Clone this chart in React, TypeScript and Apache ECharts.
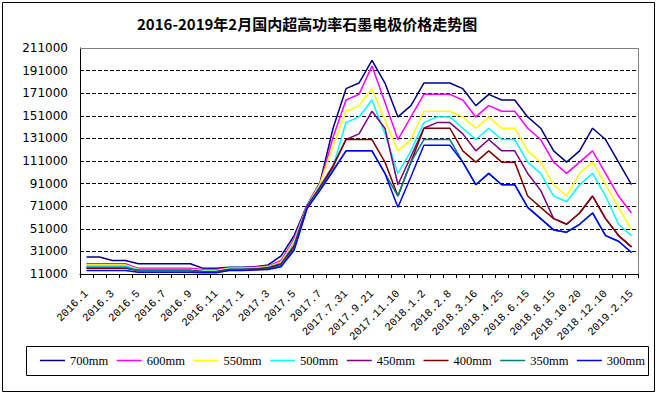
import React, { useEffect, useRef } from "react";
import * as echarts from "echarts";

const TITLE = "2016-2019年2月国内超高功率石墨电极价格走势图";

const categories = [
  "2016.1", "2016.2", "2016.3", "2016.4", "2016.5", "2016.6", "2016.7", "2016.8", "2016.9", "2016.10",
  "2016.11", "2016.12", "2017.1", "2017.2", "2017.3", "2017.4", "2017.5", "2017.6", "2017.7", "2017.7.15",
  "2017.7.31", "2017.8.31", "2017.9.21", "2017.10.15", "2017.11.10", "2017.12.1", "2018.1.2", "2018.1.20",
  "2018.2.8", "2018.3.1", "2018.3.16", "2018.4.5", "2018.4.25", "2018.5.20", "2018.6.15", "2018.7.15",
  "2018.8.15", "2018.9.15", "2018.10.20", "2018.11.15", "2018.12.10", "2019.1.10", "2019.2.15",
];

const seriesNames = ["700mm", "600mm", "550mm", "500mm", "450mm", "400mm", "350mm", "300mm"];
const seriesColors = ["#000080", "#FF00FF", "#FFFF00", "#00FFFF", "#800080", "#800000", "#008080", "#0000FF"];

const mm700 = [26000, 26000, 23000, 23000, 20000, 20000, 20000, 20000, 20000, 16000, 16000, 17000, 17000, 17500, 19000, 27000, 45000, 72000, 92000, 140000, 175000, 180000, 200000, 180000, 150000, 160000, 180000, 180000, 180000, 175000, 160000, 170000, 165000, 165000, 150000, 140000, 120000, 110000, 120000, 140000, 130000, 110000, 90000];
const mm600 = [20000, 20000, 20000, 20000, 16000, 16000, 16000, 16000, 16000, 15000, 15000, 16500, 16500, 17000, 18000, 23000, 42000, 72000, 91000, 132000, 165000, 170000, 195000, 163000, 130000, 150000, 170000, 170000, 170000, 165000, 150000, 160000, 155000, 155000, 140000, 130000, 110000, 100000, 110000, 120000, 100000, 80000, 65000];
const mm550 = [19000, 19000, 19000, 19000, 15000, 15000, 15000, 15000, 15000, 14000, 14000, 16000, 16000, 16500, 17500, 21500, 40000, 71000, 91000, 124000, 155000, 160000, 175000, 147000, 120000, 130000, 155000, 155000, 155000, 150000, 140000, 150000, 140000, 140000, 120000, 110000, 90000, 80000, 100000, 110000, 90000, 70000, 50000];
const mm500 = [18000, 18000, 18000, 18000, 14500, 14500, 14500, 14500, 14500, 13500, 13500, 15500, 15500, 16000, 17000, 20500, 38000, 71000, 89000, 106000, 145000, 150000, 165000, 135000, 100000, 120000, 145000, 150000, 150000, 140000, 130000, 140000, 130000, 130000, 110000, 100000, 80000, 75000, 90000, 100000, 80000, 55000, 45000];
const mm450 = [16500, 16500, 16500, 16500, 14000, 14000, 14000, 14000, 14000, 13000, 13000, 15000, 15000, 15500, 16500, 20000, 36000, 71000, 88000, 107000, 130000, 135000, 155000, 140000, 90000, 115000, 140000, 145000, 145000, 135000, 120000, 130000, 120000, 120000, 100000, 85000, 60000, 55000, 65000, 80000, 60000, 45000, 35000];
const mm400 = [16000, 16000, 16000, 16000, 14000, 14000, 14000, 14000, 14000, 13000, 13000, 15000, 15000, 15500, 16000, 19500, 35000, 70000, 87000, 106000, 130000, 130000, 130000, 110000, 80000, 110000, 140000, 140000, 140000, 120000, 110000, 120000, 110000, 110000, 80000, 70000, 60000, 55000, 65000, 80000, 60000, 45000, 35000];
const mm350 = [17000, 17000, 17000, 17000, 14000, 14000, 14000, 14000, 14000, 12500, 12500, 14500, 14500, 15000, 15500, 18500, 33000, 70000, 86000, 103000, 120000, 120000, 120000, 100000, 80000, 110000, 130000, 130000, 130000, 110000, 90000, 100000, 90000, 90000, 70000, 60000, 50000, 48000, 55000, 65000, 45000, 40000, 30000];
const mm300 = [14000, 14000, 14000, 14000, 12500, 12500, 12500, 12500, 12500, 12000, 12000, 14000, 14000, 14500, 15000, 17500, 32000, 69000, 85000, 102000, 120000, 120000, 120000, 100000, 70000, 97000, 125000, 125000, 125000, 110000, 90000, 100000, 90000, 90000, 70000, 60000, 50000, 48000, 55000, 65000, 45000, 40000, 30000];

const seriesValues = [mm700, mm600, mm550, mm500, mm450, mm400, mm350, mm300];

const yTicks = { min: 11000, max: 211000, interval: 20000 };

export default function App() {
  const ref = useRef<HTMLDivElement>(null);

  useEffect(() => {
    document.body.style.margin = "0";
    if (!ref.current) return;
    const chart = echarts.init(ref.current, null, { renderer: "svg" });
    const option = {
      animation: false,
      backgroundColor: "#ffffff",
      title: {
        text: TITLE,
        left: 132,
        top: 11,
        textStyle: { fontFamily: "Noto Sans CJK SC", fontSize: 15, fontWeight: "bold", color: "#000" },
      },
      grid: { left: 80, top: 48, right: 20, bottom: 122, show: false },
      legend: {
        left: 40,
        top: 354,
        width: 640,
        icon: "rect",
        itemWidth: 25,
        itemHeight: 1.5,
        itemGap: 8.5,
        padding: 0,
        data: seriesNames,
        textStyle: { fontFamily: "Liberation Serif", fontSize: 12.5, color: "#000" },
      },
      xAxis: {
        type: "category",
        data: categories,
        boundaryGap: true,
        axisLine: { lineStyle: { color: "#000", width: 1 } },
        axisTick: { show: true, interval: 0, length: 4, lineStyle: { color: "#000" } },
        axisLabel: {
          interval: 1,
          rotate: 45,
          margin: 18,
          fontFamily: "Liberation Mono",
          fontSize: 11,
          color: "#000",
        },
        splitLine: { show: false },
      },
      yAxis: {
        type: "value",
        min: yTicks.min,
        max: yTicks.max,
        interval: yTicks.interval,
        axisLine: { show: true, lineStyle: { color: "#000", width: 1 } },
        axisTick: { show: false },
        axisLabel: {
          margin: 12,
          fontFamily: "DejaVu Sans",
          fontSize: 12,
          color: "#000",
          formatter: (v: number) => String(v),
        },
        splitLine: { show: true, lineStyle: { color: "#000", type: [4, 2], width: 1 } },
      },
      series: seriesNames.map((name, k) => ({
        name,
        type: "line",
        data: seriesValues[k],
        symbol: "none",
        lineStyle: { color: seriesColors[k], width: 1.5 },
        itemStyle: { color: seriesColors[k] },
      })),
      graphic: [
        {
          type: "rect",
          z: 0,
          shape: { x: 26.5, y: 346.5, width: 622, height: 29 },
          style: { fill: "#fff", stroke: "#000", lineWidth: 1 },
        },
        {
          type: "polyline",
          z: 100,
          shape: { points: [[80, 48.5], [638.5, 48.5], [638.5, 274]] },
          style: { fill: null, stroke: "#808080", lineWidth: 1 },
        },
        {
          type: "rect",
          z: 100,
          shape: { x: 2.5, y: 2.5, width: 652, height: 389 },
          style: { fill: null, stroke: "#000", lineWidth: 1 },
        },
      ],
    };
    chart.setOption(option as any);
    return () => chart.dispose();
  }, []);

  return <div ref={ref} style={{ width: 658, height: 396 }} />;
}
